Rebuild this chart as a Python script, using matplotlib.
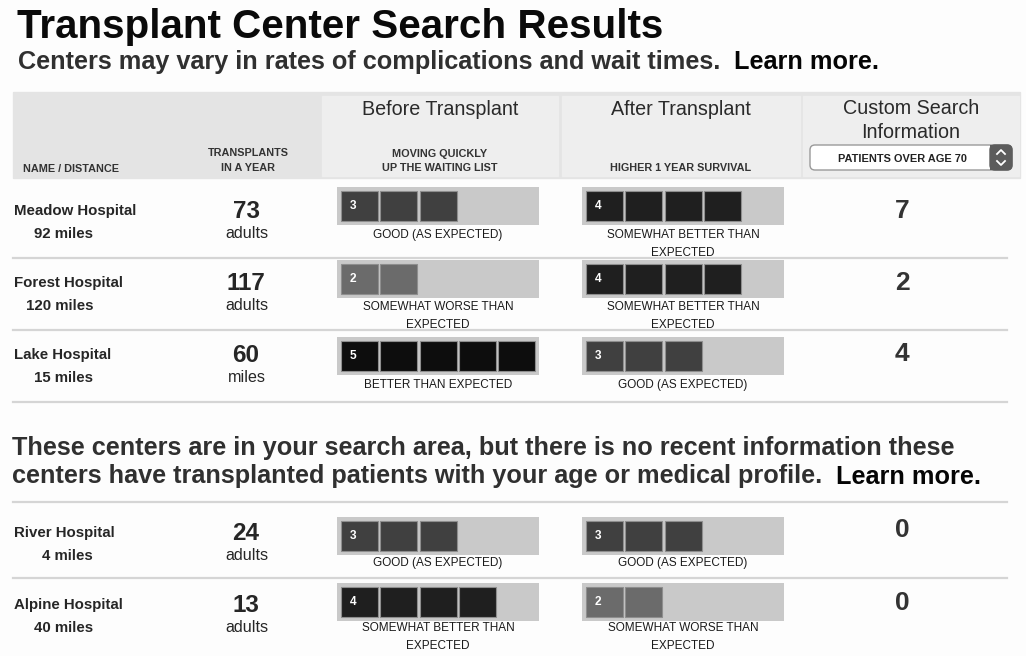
import matplotlib
matplotlib.use("Agg")
import matplotlib.pyplot as plt
from matplotlib.patches import Rectangle, FancyBboxPatch

# ---------------- data ----------------
names = ["Meadow Hospital", "Forest Hospital", "Lake Hospital", "River Hospital", "Alpine Hospital"]
distances = [92, 120, 15, 4, 40]
transplants = [73, 117, 60, 24, 13]
units = ["adults", "adults", "miles", "adults", "adults"]
before_scores = [3, 2, 5, 3, 4]
after_scores = [4, 4, 3, 3, 2]
custom_values = [7, 2, 4, 0, 0]
score_labels = {2: "SOMEWHAT WORSE THAN\nEXPECTED", 3: "GOOD (AS EXPECTED)",
                4: "SOMEWHAT BETTER THAN\nEXPECTED", 5: "BETTER THAN EXPECTED"}
max_score = 5

title = "Transplant Center Search Results"
subtitle = "Centers may vary in rates of complications and wait times.  "
learn = "Learn more."
para1 = "These centers are in your search area, but there is no recent information these"
para2 = "centers have transplanted patients with your age or medical profile.  "
header_cols = ["Before Transplant", "After Transplant"]
header_subs = ["MOVING QUICKLY\nUP THE WAITING LIST", "HIGHER 1 YEAR SURVIVAL"]
dropdown_text = "PATIENTS OVER AGE 70"

# ---------------- layout (pixels) ----------------
W, H = 1026, 656
FONT = "Liberation Sans"
cell_colors = {1: "#8a8a8a", 2: "#6b6b6b", 3: "#404040", 4: "#1f1f1f", 5: "#0d0d0d"}

fig = plt.figure(figsize=(W / 100, H / 100), dpi=100)
fig.patch.set_facecolor("#fdfdfd")
ax = fig.add_axes([0, 0, 1, 1])
ax.set_xlim(0, W)
ax.set_ylim(H, 0)
ax.axis("off")
renderer = fig.canvas.get_renderer()


def txt(x, y, s, size, weight="normal", color="#2a2a2a", ha="left", va="baseline", **kw):
    return ax.text(x, y, s, fontsize=size, fontweight=weight, color=color, ha=ha, va=va,
                   family=FONT, **kw)


def width_px(t):
    return t.get_window_extent(renderer).width


def fit(t, target):
    t.set_fontsize(t.get_fontsize() * target / width_px(t))
    return t


# title & subtitle
fit(txt(17, 38, title, 29, "bold", "#0a0a0a"), 646)
t1 = txt(18, 69, subtitle, 16, "bold", "#303030")
t2 = txt(0, 69, learn, 16, "bold", "#050505")
scale = 862 / (width_px(t1) + width_px(t2))
t1.set_fontsize(16 * scale)
t2.set_fontsize(16 * scale)
t2.set_x(18 + width_px(t1))

# header band
ax.add_patch(Rectangle((13, 92), 1007, 86, color="#e4e4e4", zorder=0))
for (x0, x1) in [(322, 558), (562, 800), (803, 1019)]:
    ax.add_patch(Rectangle((x0, 96), x1 - x0, 80, color="#eeeeee", zorder=0.5))
txt(23, 172, "NAME / DISTANCE", 7.8, "bold", "#333333")
txt(248, 156, "TRANSPLANTS", 7.8, "bold", "#333333", ha="center")
txt(248, 171, "IN A YEAR", 7.8, "bold", "#333333", ha="center")
for cx, head, sub in zip([440, 681], header_cols, header_subs):
    txt(cx, 115, head, 14.2, "normal", "#2a2a2a", ha="center")
    lines = sub.split("\n")
    for i, ln in enumerate(reversed(lines)):
        txt(cx, 171 - 14 * i, ln, 7.8, "bold", "#333333", ha="center")
txt(911, 114, "Custom Search", 14.2, "normal", "#2a2a2a", ha="center")
txt(911, 138, "Information", 14.2, "normal", "#2a2a2a", ha="center")

# dropdown
ax.add_patch(FancyBboxPatch((810, 145), 202, 25, boxstyle="round,pad=0,rounding_size=5",
                            fc="white", ec="#9a9a9a", lw=1, zorder=1))
ax.add_patch(FancyBboxPatch((990, 145), 22, 25, boxstyle="round,pad=0,rounding_size=5",
                            fc="#5c5c5c", ec="#5c5c5c", lw=1, zorder=2))
ax.add_patch(Rectangle((990, 145), 8, 25, fc="#5c5c5c", ec="none", zorder=2.1))
ax.plot([997, 1001, 1005], [154, 150, 154], color="white", lw=1.3, zorder=3)
ax.plot([997, 1001, 1005], [161, 165, 161], color="white", lw=1.3, zorder=3)
txt(902, 161.5, dropdown_text, 7.9, "bold", "#222222", ha="center")

# rows layout: name centre, bar top, label centre, custom centre
row_name_c = [209, 282, 353, 531, 603]
row_bar_top = [187, 260, 337, 517, 583]
row_label_c = [234, 306, 384, 562, 627]
row_custom_c = [209, 281, 352, 528, 601]
separators = [258, 330, 402, 502, 578]
bar_x = [337, 582]
bar_w, bar_h = 202, 38
pitch = 39.3

for y in separators:
    ax.plot([13, 1007], [y, y], color="#d5d5d5", lw=1.6, zorder=1)


def score_bar(x0, y0, score):
    bax = fig.add_axes([x0 / W, 1 - (y0 + bar_h) / H, bar_w / W, bar_h / H])
    bax.set_facecolor("#c9c9c9")
    left = 4 / pitch
    bax.set_xlim(-left, bar_w / pitch - left)
    bax.set_ylim(0, 1)
    cells = list(range(score))
    bax.bar(cells, [0.78] * score, bottom=0.11, width=37 / pitch, align="edge",
            color=cell_colors[score], edgecolor="#8e8e8e", linewidth=0.8)
    bax.text(0.3, 0.5, str(score), color="white", fontsize=8.6, fontweight="bold",
             ha="center", va="center", family=FONT)
    bax.set_xticks([])
    bax.set_yticks([])
    for s in bax.spines.values():
        s.set_visible(False)


for i in range(len(names)):
    yc = row_name_c[i]
    txt(14, yc + 5.5, names[i], 10.8, "bold", "#262626")
    txt(93, yc + 28.5, f"{distances[i]} miles", 10.8, "bold", "#262626", ha="right")
    txt(246, yc + 8.5, str(transplants[i]), 17.5, "bold", "#262626", ha="center")
    txt(247, yc + 28.5, units[i], 11.6, "normal", "#262626", ha="center")
    for bx, sc in zip(bar_x, [before_scores[i], after_scores[i]]):
        score_bar(bx, row_bar_top[i], sc)
        lines = score_labels[sc].split("\n")
        for j, ln in enumerate(lines):
            txt(bx + bar_w / 2, row_label_c[i] + 4.2 + 17.5 * j, ln, 8.5, "normal",
                "#1a1a1a", ha="center")
    txt(902, row_custom_c[i] + 9, str(custom_values[i]), 19, "bold", "#333333", ha="center")

# paragraph between groups
p1 = txt(12, 454.5, para1, 16, "bold", "#303030")
fit(p1, 943)
p2 = txt(12, 483.5, para2, p1.get_fontsize(), "bold", "#303030")
p3 = txt(12 + width_px(p2), 483.5, learn, p1.get_fontsize(), "bold", "#050505")

fig.savefig("out.png", dpi=100, facecolor=fig.get_facecolor())
